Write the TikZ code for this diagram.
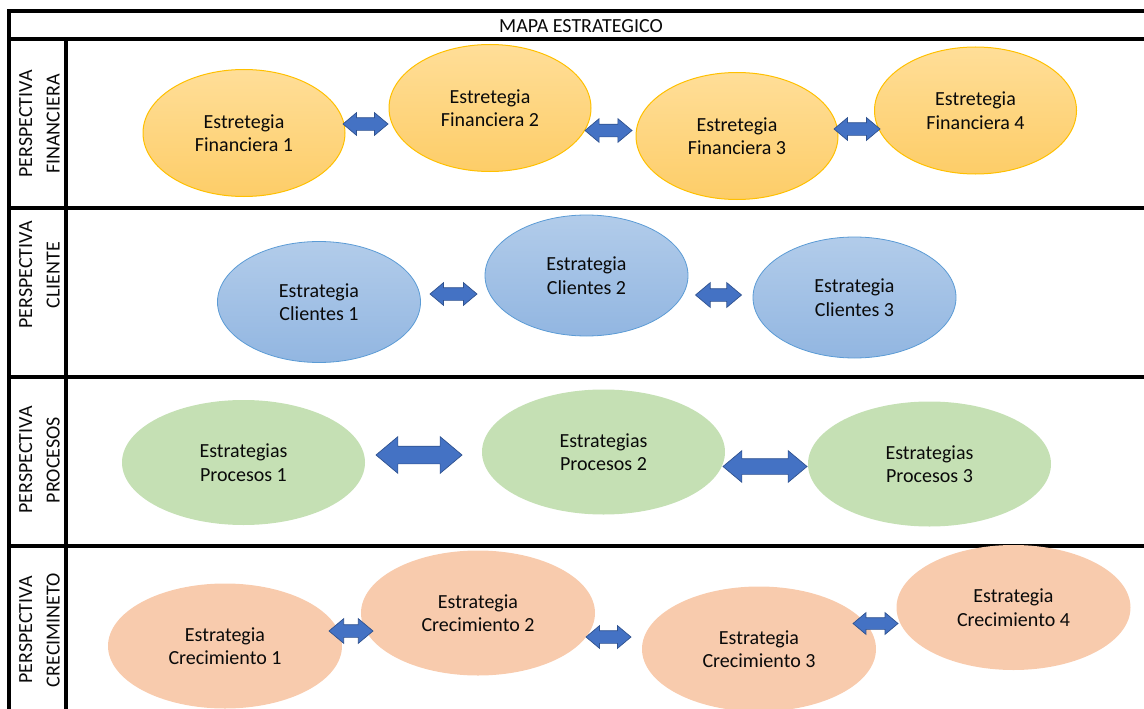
\documentclass[tikz,border=0pt]{standalone}
\usepackage{fontspec}
\setmainfont{Carlito}
\usetikzlibrary{shapes.geometric,shapes.arrows}
\definecolor{goldedge}{HTML}{FFC000}
\definecolor{goldtop}{RGB}{255,222,152}
\definecolor{goldbot}{RGB}{253,205,104}
\definecolor{blueedge}{HTML}{5B9BD5}
\definecolor{bluetop}{RGB}{178,204,234}
\definecolor{bluebot}{RGB}{146,182,225}
\definecolor{greenfill}{HTML}{C5E0B4}
\definecolor{peachfill}{HTML}{F8CBAD}
\definecolor{arrowblue}{HTML}{4472C4}
\definecolor{arrowedge}{HTML}{2F528F}
\definecolor{txt}{RGB}{10,10,10}
\tikzset{
  tbl/.style={line width=3.1pt, line cap=rect},
  ell/.style={ellipse, inner sep=0pt, align=center, text=txt,
    font=\fontsize{20}{23.5}\selectfont},
  fin/.style={ell, draw=goldedge, line width=1pt, top color=goldtop, bottom color=goldbot,
    minimum width=202pt, minimum height=127pt},
  cli/.style={ell, draw=blueedge, line width=0.8pt, top color=bluetop, bottom color=bluebot,
    minimum width=203pt, minimum height=121pt},
  pro/.style={ell, fill=greenfill, minimum width=243pt, minimum height=125pt},
  cre/.style={ell, fill=peachfill, minimum width=234pt, minimum height=125pt},
  dbl/.style n args={3}{double arrow, draw=arrowedge, fill=arrowblue, line width=0.7pt,
    inner xsep=0pt, inner ysep=#3, double arrow head extend=#2,
    double arrow tip angle=80, minimum height=#1},
  lbl/.style={rotate=90, align=center, text=txt, font=\fontsize{20}{27.5}\selectfont},
  ttl/.style={text=txt, font=\fontsize{20}{24}\selectfont}
}
\begin{document}
\begin{tikzpicture}[x=1pt,y=-1pt]
\useasboundingbox (0,0) rectangle (1144,709);
% table
\draw[tbl] (1146,11) -- (9,11) -- (9,712);
\draw[tbl] (9,39) -- (1146,39);
\draw[tbl] (66,39) -- (66,712);
\draw[tbl] (9,208) -- (1146,208);
\draw[tbl] (9,377) -- (1146,377);
\draw[tbl] (9,546) -- (1146,546);
\node[ttl] (title) at (581,26.5) {MAPA ESTRATEGICO};
% row labels
\node[lbl] (lfin) at (39.5,124) {PERSPECTIVA\\FINANCIERA};
\node[lbl] (lcli) at (39.5,275) {PERSPECTIVA\\CLIENTE};
\node[lbl] (lpro) at (39.5,460) {PERSPECTIVA\\PROCESOS};
\node[lbl] (lcre) at (39.5,630) {PERSPECTIVA\\CRECIMINETO};
% financiera
\node[fin] (F1) at (244,133) {Estretegia\\Financiera 1};
\node[fin] (F2) at (490,108) {Estretegia\\Financiera 2};
\node[fin] (F3) at (737,136) {Estretegia\\Financiera 3};
\node[fin] (F4) at (975.5,110.5) {Estretegia\\Financiera 4};
\node[dbl={45pt}{5pt}{6pt}] (a12) at (365.5,124) {};
\node[dbl={47pt}{5.5pt}{6pt}] (a23) at (608.5,130.5) {};
\node[dbl={46pt}{5pt}{6pt}] (a34) at (857,129) {};
% clientes
\node[cli] (C1) at (319,302) {Estrategia\\Clientes 1};
\node[cli] (C2) at (586.5,275.5) {Estrategia\\Clientes 2};
\node[cli] (C3) at (854.5,297.5) {Estrategia\\Clientes 3};
\node[dbl={47pt}{5pt}{6pt}] (b12) at (453.5,294) {};
\node[dbl={46pt}{6pt}{6pt}] (b23) at (718.5,295) {};
% procesos
\node[pro] (P1) at (243.5,462.5) {Estrategias\\Procesos 1};
\node[pro] (P2) at (603.5,452) {Estrategias\\Procesos 2};
\node[pro] (P3) at (929.5,464) {Estrategias\\Procesos 3};
\node[dbl={86pt}{9.5pt}{8.5pt}] (c12) at (419,455) {};
\node[dbl={84pt}{8pt}{7.5pt}] (c23) at (765,466.5) {};
% crecimiento
\node[cre] (R1) at (225,646) {Estrategia\\Crecimiento 1};
\node[cre] (R2) at (478,613) {Estrategia\\Crecimiento 2};
\node[cre] (R3) at (759,649) {Estrategia\\Crecimiento 3};
\node[cre] (R4) at (1013.5,607.5) {Estrategia\\Crecimiento 4};
\node[dbl={44pt}{6pt}{6pt}] (d12) at (351,631) {};
\node[dbl={45pt}{5pt}{6pt}] (d23) at (608.5,637) {};
\node[dbl={45pt}{5pt}{5.5pt}] (d34) at (875.5,623.5) {};
\end{tikzpicture}
\end{document}
